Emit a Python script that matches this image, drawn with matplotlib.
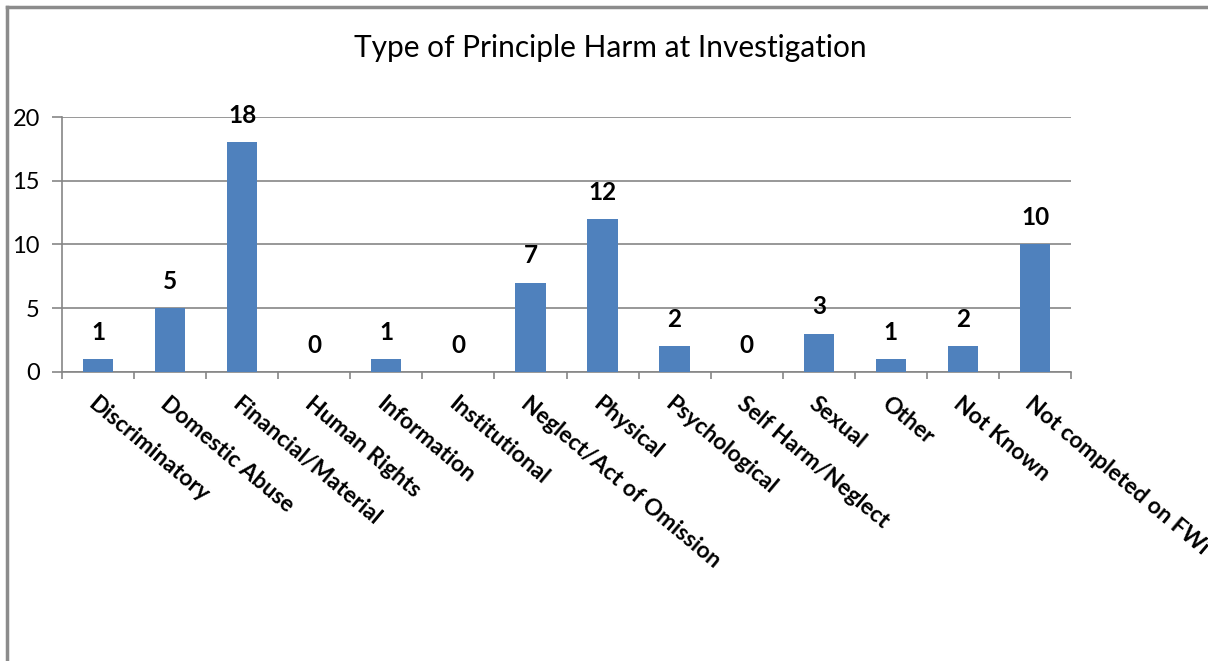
import numpy as np
import matplotlib.pyplot as plt
from matplotlib.lines import Line2D

### Data
categories = ["Discriminatory", "Domestic Abuse", "Financial/Material", "Human Rights",
              "Information", "Institutional", "Neglect/Act of Omission", "Physical",
              "Psychological", "Self Harm/Neglect", "Sexual", "Other", "Not Known",
              "Not completed on FWi"]
counts = [1, 5, 18, 0, 1, 0, 7, 12, 2, 0, 3, 1, 2, 10]
y_ticks = [0, 5, 10, 15, 20]

plt.rcParams['font.family'] = ['Lato', 'DejaVu Sans']
grey = '#868686'

fig = plt.figure(figsize=(12.08, 6.61), dpi=100)
ax = fig.add_axes([62/1208, 1 - 372/661, (1071 - 62)/1208, (372 - 117)/661])

x = np.arange(len(categories))
ax.bar(x, counts, width=0.42, color='#4F81BD', zorder=3)

# value labels above bars
for xi, v in zip(x, counts):
    ax.annotate(str(v), (xi, v), xytext=(0, 11), textcoords='offset points',
                ha='center', va='bottom', fontsize=17.5, fontweight='bold')

ax.set_xlim(-0.5, len(categories) - 0.5)
ax.set_ylim(0, 20)
ax.set_yticks(y_ticks)
ax.yaxis.grid(True, color=grey, linewidth=1.2, zorder=0)
ax.tick_params(axis='y', length=7, width=1.2, color=grey, labelsize=17, pad=9)

# category boundary ticks on x axis, labels at centres
ax.set_xticks(np.arange(len(categories) + 1) - 0.5)
ax.set_xticklabels([])
ax.set_xticks(x, minor=True)
ax.set_xticklabels(categories, minor=True, rotation=-40, ha='left', va='top',
                   rotation_mode='anchor', fontsize=16.5, fontweight='bold')
ax.tick_params(axis='x', which='major', length=5, width=1.2, color=grey, direction='out')
ax.tick_params(axis='x', which='minor', length=0, pad=15)

for side in ['top', 'right']:
    ax.spines[side].set_visible(False)
for side in ['left', 'bottom']:
    ax.spines[side].set_color(grey)
    ax.spines[side].set_linewidth(1.2)

fig.text(0.505, 1 - 48/661, "Type of Principle Harm at Investigation",
         ha='center', va='center', fontsize=21.5)

# outer chart border (only top and left visible in the crop)
fig.add_artist(Line2D([7/1208, 7/1208], [0, 1 - 7/661], transform=fig.transFigure,
                      color='#8c8c8c', linewidth=2.5))
fig.add_artist(Line2D([7/1208, 1], [1 - 7/661, 1 - 7/661], transform=fig.transFigure,
                      color='#8c8c8c', linewidth=2.5))

fig.savefig('out.png', dpi=100)
